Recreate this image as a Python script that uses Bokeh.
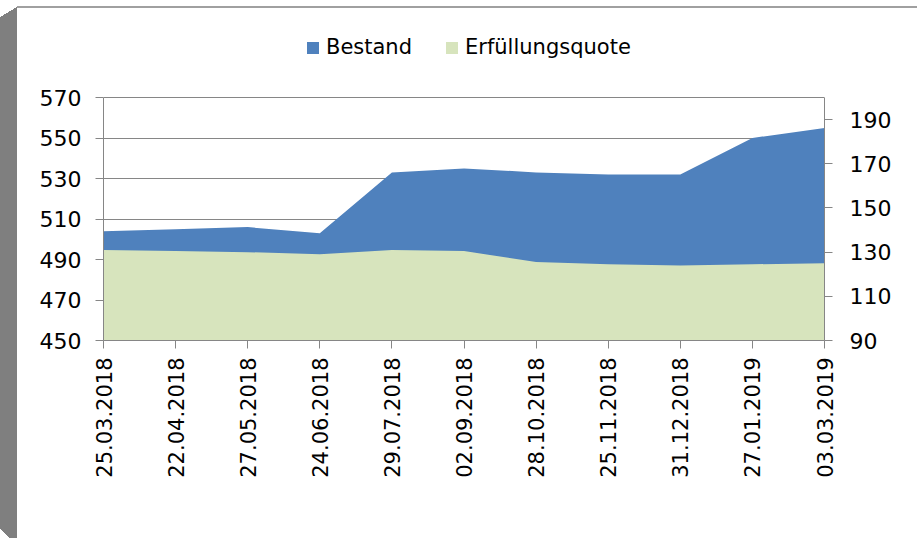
import math
from bokeh.plotting import figure
from bokeh.models import (Range1d, LinearAxis, FixedTicker, Legend, LegendItem,
                          ColumnDataSource)
from bokeh.embed import file_html
from bokeh.resources import INLINE

# ---- data -------------------------------------------------------------
dates = ["25.03.2018", "22.04.2018", "27.05.2018", "24.06.2018", "29.07.2018",
         "02.09.2018", "28.10.2018", "25.11.2018", "31.12.2018", "27.01.2019",
         "03.03.2019"]
bestand = [504, 505, 506, 503, 533, 535, 533, 532, 532, 550, 555]
quote = [131, 130.5, 130, 129, 131, 130.5, 125.5, 124.5, 124, 124.5, 125]
left_ticks = [450, 470, 490, 510, 530, 550, 570]
right_ticks = [90, 110, 130, 150, 170, 190]
right_max = 200
series_names = ["Bestand", "Erfüllungsquote"]

BLUE = "#4F81BD"
GREEN = "#D7E4BD"
AXIS = "#868686"
FONT = "DejaVu Sans"

idx = list(range(len(dates)))
src = ColumnDataSource(dict(x=idx, bestand=bestand, quote=quote,
                            base_l=[left_ticks[0]] * len(idx),
                            base_r=[right_ticks[0]] * len(idx)))

# layout (pixels)
FL, FR, FB = 103, 93, 198
FW = 721
PLOT_H = 243          # height of the drawn plot area (450..570)
EXTRA = 77            # white space above the plot area kept inside the frame (for the legend)
FT = 97 - EXTRA
FH = PLOT_H + EXTRA

l_lo, l_hi = left_ticks[0], left_ticks[-1]
r_lo, r_hi = right_ticks[0], right_max
l_top = l_hi + EXTRA * (l_hi - l_lo) / PLOT_H
r_top = r_hi + EXTRA * (r_hi - r_lo) / PLOT_H

# chart-frame decoration drawn as CSS background behind a transparent border
frame_css = ("linear-gradient(#FFFFFF, #FFFFFF) 0 0 / 17px 7px no-repeat, "
             "linear-gradient(to bottom right, #FFFFFF 50%, transparent 50%) 0 7px / 17px 10px no-repeat, "
             "linear-gradient(to top right, #FFFFFF 50%, transparent 50%) 0 100% / 9px 10px no-repeat, "
             "linear-gradient(#A0A0A0, #A0A0A0) 17px 6px / 100% 2px no-repeat, "
             "linear-gradient(#7F7F7F, #7F7F7F) 0 0 / 17px 100% no-repeat, "
             "#FFFFFF")

p = figure(frame_width=FW, frame_height=FH, output_backend="svg", toolbar_location=None,
           x_range=Range1d(idx[0], idx[-1]), y_range=Range1d(l_lo, l_top),
           min_border_left=FL, min_border_right=FR, min_border_top=FT, min_border_bottom=FB,
           styles={"background": frame_css})
p.extra_y_ranges = {"q": Range1d(r_lo, r_top)}
p.outline_line_color = None
p.background_fill_color = "white"
p.border_fill_alpha = 0

r1 = p.varea(x="x", y1="base_l", y2="bestand", source=src, fill_color=BLUE)
r2 = p.varea(x="x", y1="base_r", y2="quote", source=src, fill_color=GREEN, y_range_name="q")

raxis = LinearAxis(y_range_name="q")
p.add_layout(raxis, "right")

p.xgrid.visible = False
p.ygrid.ticker = FixedTicker(ticks=left_ticks)
p.ygrid.grid_line_color = AXIS
p.ygrid.grid_line_width = 1

for ax in p.axis:
    ax.axis_line_color = AXIS
    ax.major_tick_line_color = AXIS
    ax.minor_tick_line_color = None
    ax.major_tick_out = 8
    ax.major_tick_in = 0
    ax.major_label_text_font = FONT
    ax.major_label_text_color = "#000000"
    ax.major_label_text_font_size = "22px"

p.yaxis[0].ticker = FixedTicker(ticks=left_ticks)
p.yaxis[0].bounds = (l_lo, l_hi)
p.yaxis[0].major_label_standoff = 14
raxis.ticker = FixedTicker(ticks=right_ticks)
raxis.bounds = (r_lo, r_hi)
raxis.major_label_standoff = 17

p.xaxis.ticker = FixedTicker(ticks=idx)
p.xaxis.major_label_overrides = {i: d for i, d in enumerate(dates)}
p.xaxis.major_label_orientation = math.pi / 2
p.xaxis.major_label_text_font_size = "21px"
p.xaxis.major_label_standoff = 9

legend = Legend(items=[LegendItem(label=series_names[0], renderers=[r1]),
                       LegendItem(label=series_names[1], renderers=[r2])],
                orientation="horizontal", location=(202, 281),
                glyph_width=15, glyph_height=15, label_standoff=6, spacing=32,
                padding=0, margin=0, border_line_color=None, background_fill_alpha=0,
                label_text_font=FONT, label_text_font_size="21px",
                label_text_color="#000000")
p.add_layout(legend, "center")

open("out.html", "w").write(file_html(p, INLINE))
